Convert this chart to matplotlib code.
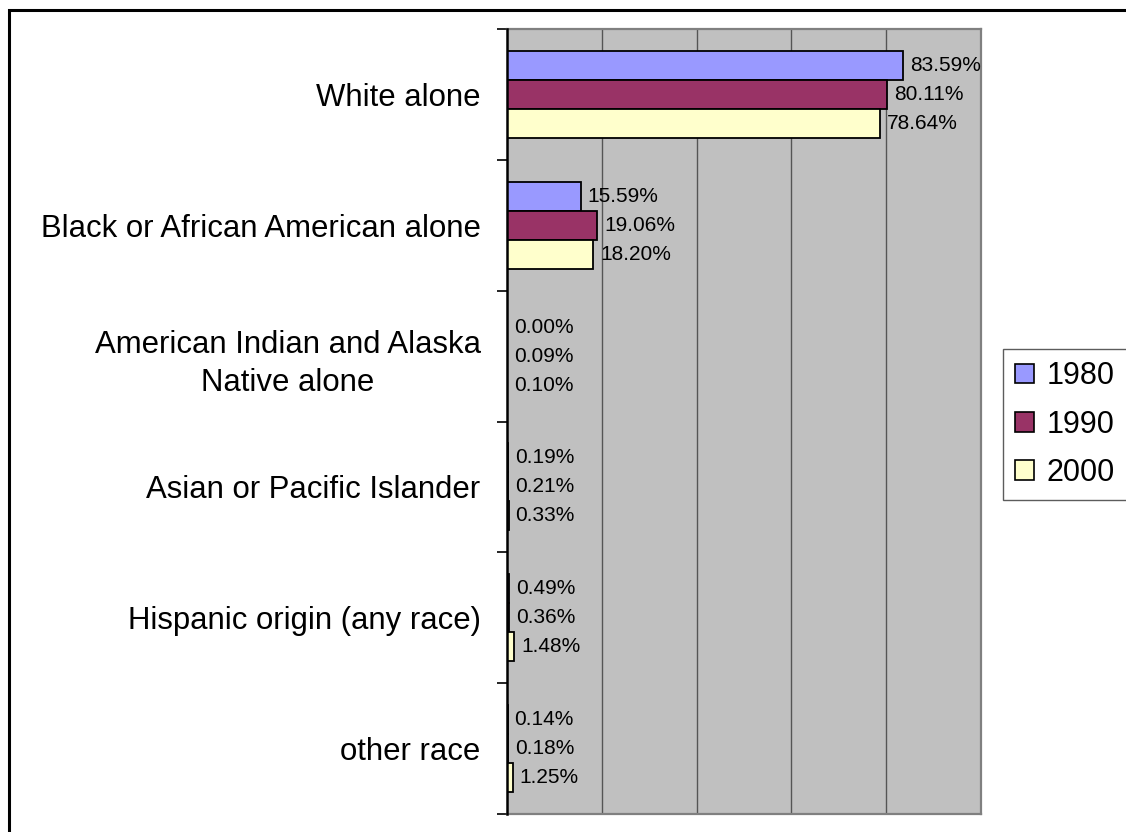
import matplotlib
matplotlib.use("Agg")
import matplotlib.pyplot as plt
from matplotlib.patches import Rectangle, Patch
import numpy as np

plt.rcParams['font.family'] = ['Liberation Sans', 'DejaVu Sans']

categories = [
    "White alone",
    "Black or African American alone",
    "American Indian and Alaska\nNative alone",
    "Asian or Pacific Islander",
    "Hispanic origin (any race)",
    "other race",
]
years = ["1980", "1990", "2000"]
share_1980 = [83.59, 15.59, 0.00, 0.19, 0.49, 0.14]
share_1990 = [80.11, 19.06, 0.09, 0.21, 0.36, 0.18]
share_2000 = [78.64, 18.20, 0.10, 0.33, 1.48, 1.25]
series = [share_1980, share_1990, share_2000]
colors = ["#9999FF", "#993366", "#FFFFCC"]

W, H = 1126, 832
fig = plt.figure(figsize=(W / 100, H / 100), dpi=100)

# plot area in pixel coordinates
left, right, top, bottom = 507, 981, 29, 814
ax = fig.add_axes([left / W, (H - bottom) / H, (right - left) / W, (bottom - top) / H])
ax.set_facecolor("#C0C0C0")

n = len(categories)
bar_h = 0.222
y_center = np.arange(n)
for i, (vals, col) in enumerate(zip(series, colors)):
    ypos = y_center + (i - 1) * bar_h
    ax.barh(ypos, vals, height=bar_h, color=col, edgecolor="black",
            linewidth=1.3, zorder=2, label=years[i])
    for y, v in zip(ypos, vals):
        ax.annotate(f"{v:.2f}%", xy=(v, y), xytext=(5, 0),
                    textcoords="offset points", ha="left", va="center",
                    fontsize=15, color="black", zorder=4)

ax.set_xlim(0, 100)
ax.set_ylim(n - 0.5, -0.5)
ax.set_xticks([20, 40, 60, 80])
ax.tick_params(axis="x", length=0, labelbottom=False)
ax.grid(axis="x", color="#555555", linewidth=1.0, zorder=1)

ax.set_yticks(y_center)
ax.set_yticklabels(categories, fontsize=22.4, multialignment="center", linespacing=1.38)
ax.tick_params(axis="y", which="major", length=0, pad=19)
ax.set_yticks(np.arange(n + 1) - 0.5, minor=True)
ax.tick_params(axis="y", which="minor", length=7, width=1.2, color="black", direction="out")

for side in ["top", "right", "bottom"]:
    ax.spines[side].set_color("#808080")
    ax.spines[side].set_linewidth(1.6)
ax.spines["left"].set_color("black")
ax.spines["left"].set_linewidth(1.8)
ax.spines["left"].set_zorder(3)

# legend
handles = [Patch(facecolor=c, edgecolor="black", linewidth=1.2) for c in colors]
leg = fig.legend(handles, years, loc="upper left",
                 bbox_to_anchor=(1003 / W, 1 - 349 / H), bbox_transform=fig.transFigure,
                 fontsize=22, frameon=True, fancybox=False, borderaxespad=0,
                 handlelength=0.62, handleheight=0.62, handletextpad=0.4,
                 labelspacing=0.6, borderpad=0.4)
leg.get_frame().set_edgecolor("#333333")
leg.get_frame().set_linewidth(1.0)

# outer chart frame
fig.patches.append(Rectangle((9 / W, -0.1), 1.2, 1 - 9.5 / H + 0.1,
                             transform=fig.transFigure, fill=False,
                             edgecolor="black", linewidth=2.2, zorder=0))

fig.savefig("out.png", dpi=100)
